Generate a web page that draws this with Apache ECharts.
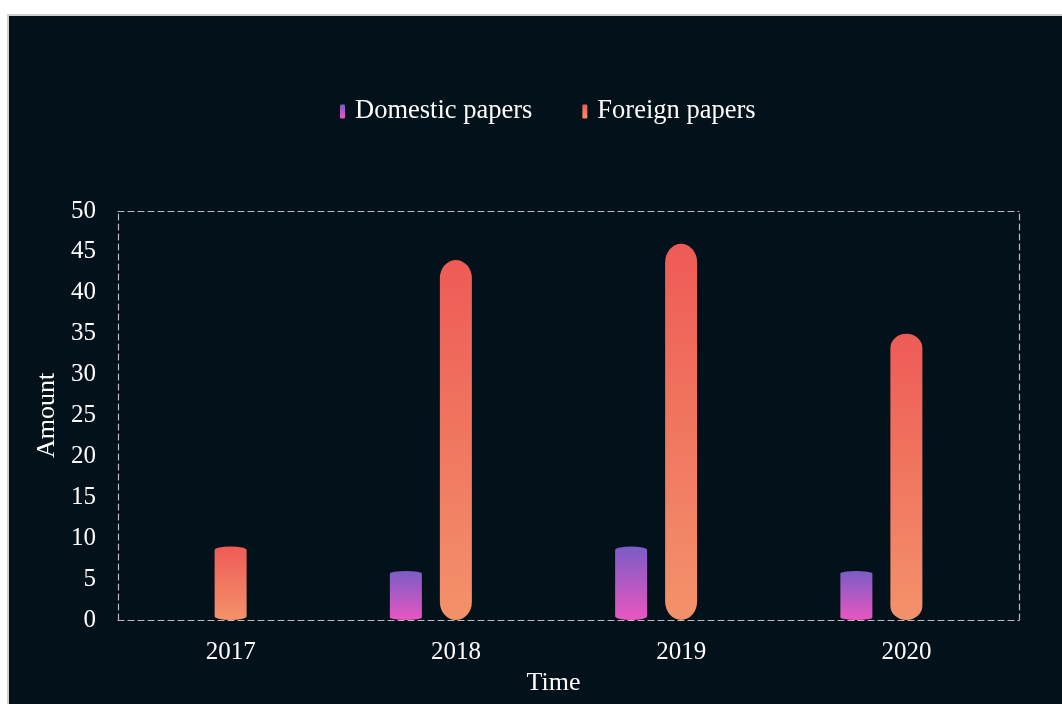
<!DOCTYPE html>
<html>
<head>
<meta charset="utf-8">
<script src="https://cdn.jsdelivr.net/npm/echarts@6/dist/echarts.min.js"></script>
<style>
html,body{margin:0;padding:0;background:#ffffff;width:1062px;height:704px;overflow:hidden;}
#wrap{position:absolute;left:7px;top:14px;border-left:2px solid #cfcfcf;border-top:2px solid #cfcfcf;background:#02111a;}
#chart{width:1053px;height:688px;}
</style>
</head>
<body>
<div id="wrap"><div id="chart"></div></div>
<script>
const categories = ['2017', '2018', '2019', '2020'];
const domesticPapers = [0, 6, 9, 6];
const foreignPapers = [9, 44, 46, 35];
const seriesNames = ['Domestic papers', 'Foreign papers'];

const pillPath = 'path://M0,5 A5,5 0 0 1 10,5 L10,95 A5,5 0 0 1 0,95 Z';
const font = '"Liberation Serif", "Times New Roman", serif';

function grad(top, bottom) {
  return new echarts.graphic.LinearGradient(0, 0, 0, 1, [
    { offset: 0, color: top },
    { offset: 1, color: bottom }
  ]);
}

const chart = echarts.init(document.getElementById('chart'));
const dashed = { show: true, onZero: false, lineStyle: { color: '#bcbcbc', width: 1.2, type: [6, 4] } };

chart.setOption({
  backgroundColor: '#02111a',
  animation: false,
  legend: {
    left: 326,
    top: 77,
    itemWidth: 5,
    itemHeight: 14,
    itemGap: 50,
    icon: 'roundRect',
    textStyle: { color: '#ffffff', fontSize: 26.5, fontFamily: font, padding: [0, 0, 0, 5] },
    data: seriesNames
  },
  grid: { left: 109, right: 43, top: 195, bottom: 84 },
  xAxis: [{
    type: 'category',
    data: categories,
    name: 'Time',
    nameLocation: 'middle',
    nameGap: 42,
    nameTextStyle: { color: '#ffffff', fontSize: 26, fontFamily: font, padding: [0, 30, 0, 0] },
    axisLine: dashed,
    axisTick: { show: false },
    axisLabel: { color: '#ffffff', fontSize: 25, fontFamily: font, margin: 20 }
  }, {
    type: 'category',
    data: categories,
    position: 'top',
    axisLine: dashed,
    axisTick: { show: false },
    axisLabel: { show: false }
  }],
  yAxis: [{
    type: 'value',
    min: 0,
    max: 50,
    interval: 5,
    name: 'Amount',
    nameLocation: 'middle',
    nameGap: 57,
    nameTextStyle: { color: '#ffffff', fontSize: 26, fontFamily: font },
    axisLine: dashed,
    axisTick: { show: false },
    splitLine: { show: false },
    axisLabel: { color: '#ffffff', fontSize: 25, fontFamily: font, margin: 22 }
  }, {
    type: 'value',
    min: 0,
    max: 50,
    interval: 5,
    position: 'right',
    axisLine: dashed,
    axisTick: { show: false },
    splitLine: { show: false },
    axisLabel: { show: false }
  }],
  series: [{
    name: seriesNames[0],
    type: 'pictorialBar',
    data: domesticPapers,
    symbol: pillPath,
    symbolSize: [32, '100%'],
    symbolOffset: [-50, 0],
    itemStyle: { color: grad('#7a5cc6', '#ea56c0') }
  }, {
    name: seriesNames[1],
    type: 'pictorialBar',
    data: foreignPapers,
    symbol: pillPath,
    symbolSize: [32, '100%'],
    itemStyle: { color: grad('#ee5b56', '#f3926a') }
  }]
});
</script>
</body>
</html>
